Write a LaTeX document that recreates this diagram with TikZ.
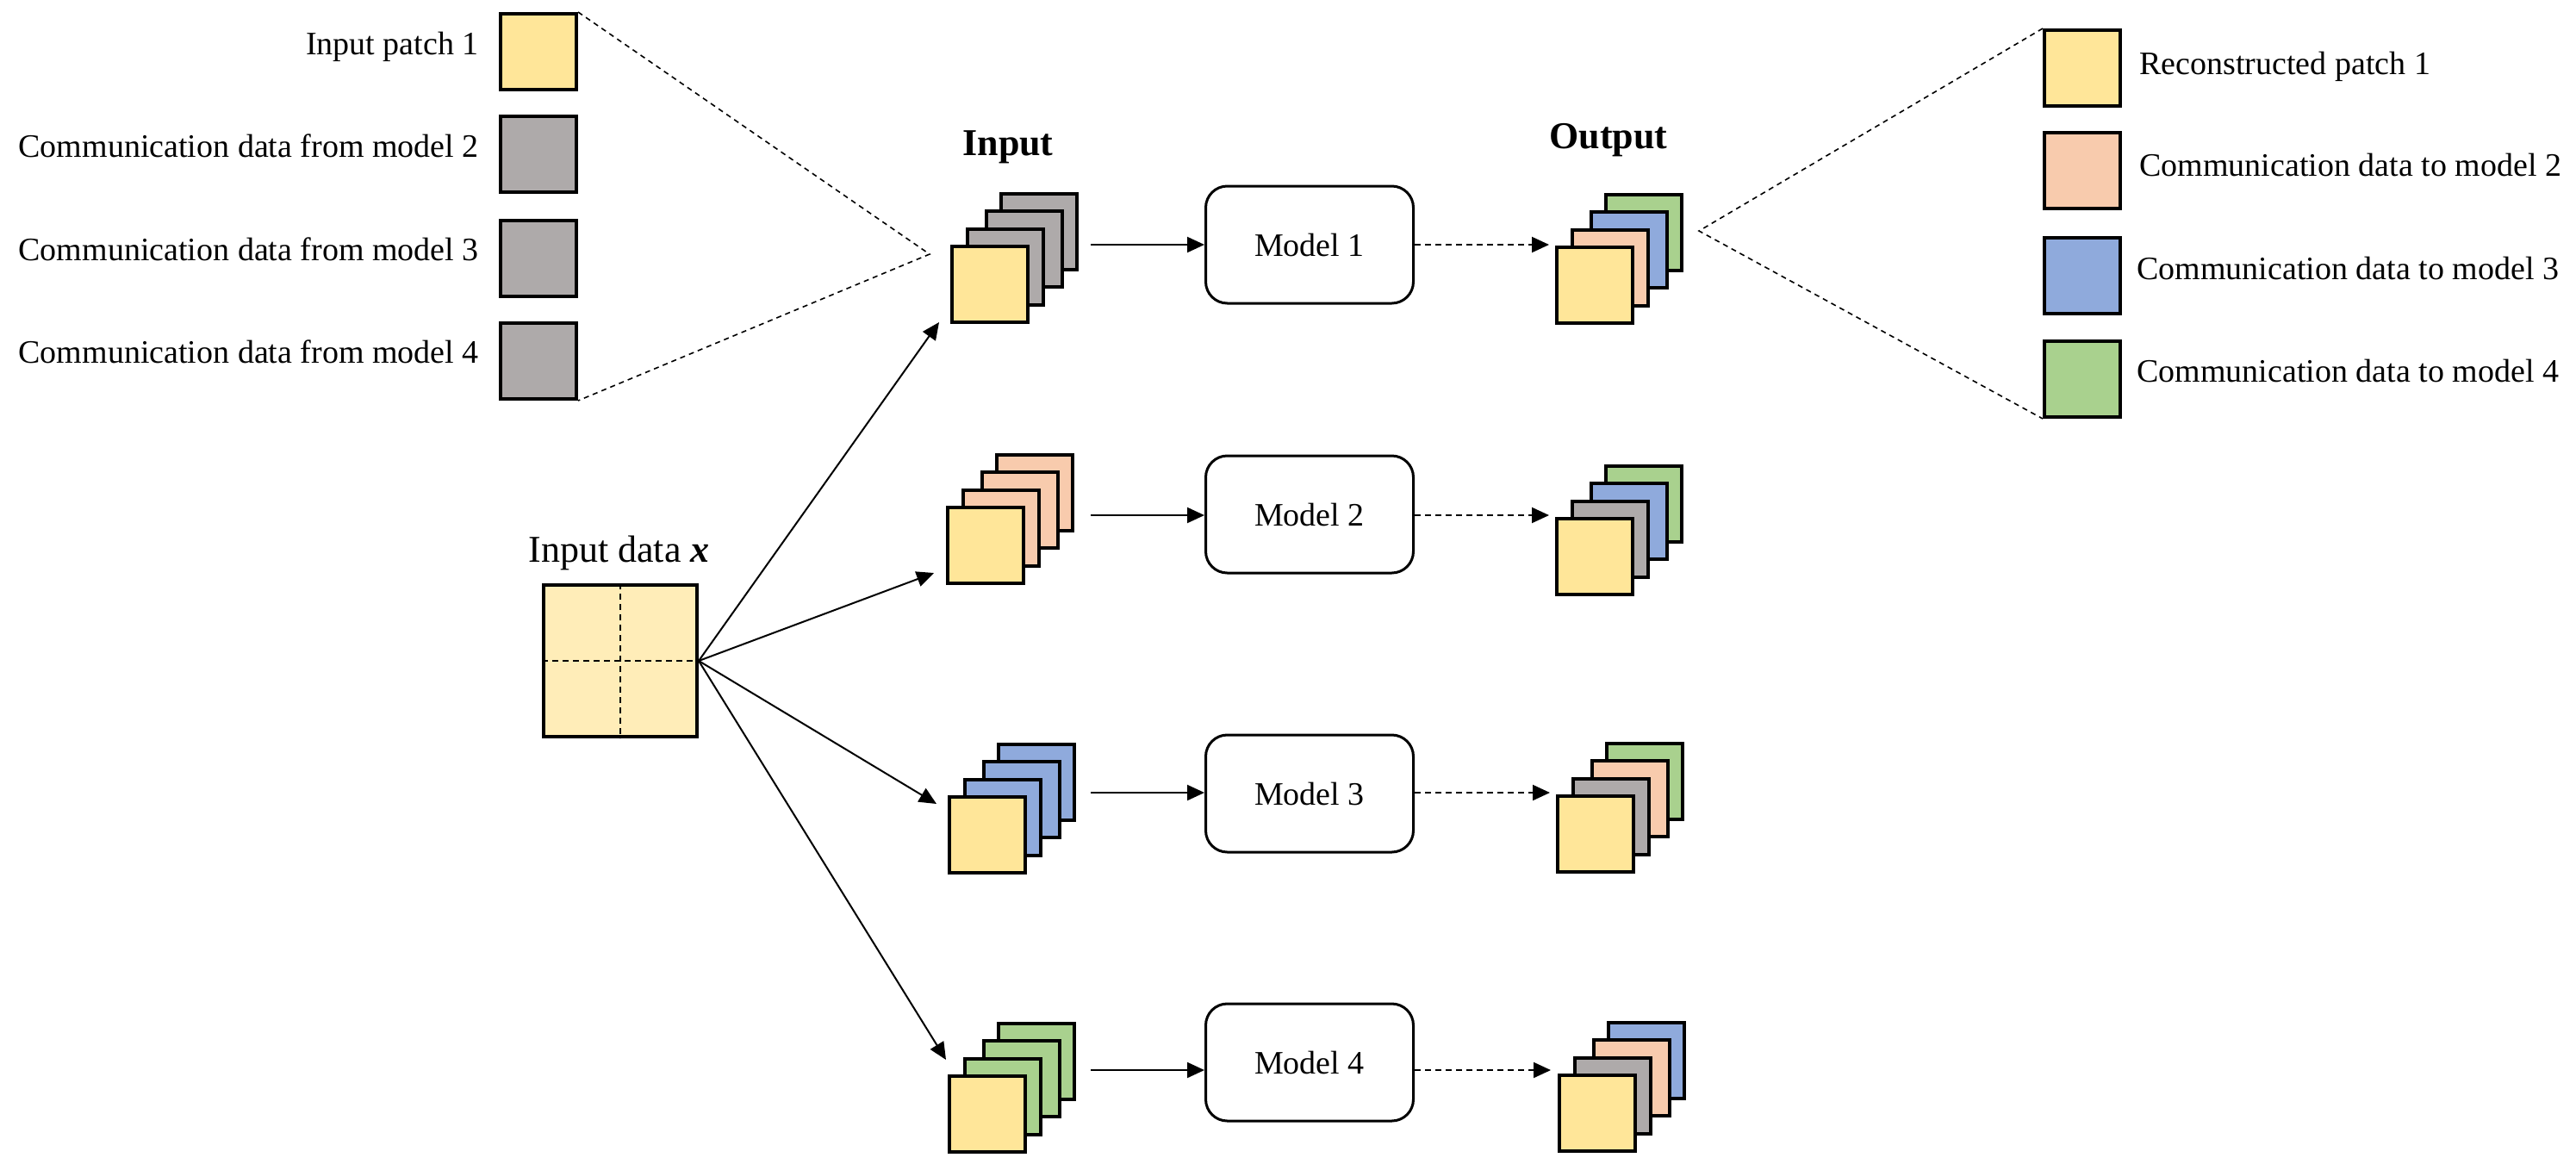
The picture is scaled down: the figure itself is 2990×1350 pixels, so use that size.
\documentclass[tikz,border=0pt]{standalone}
\usepackage{fontspec}
\setmainfont{Liberation Serif}
\usetikzlibrary{arrows.meta,calc}
\definecolor{cy}{HTML}{FFE699}
\definecolor{cg}{HTML}{AEAAAA}
\definecolor{cp}{HTML}{F8CBAD}
\definecolor{cb}{HTML}{8FAADC}
\definecolor{cgr}{HTML}{A9D18E}
\definecolor{cin}{HTML}{FFEDB8}
\tikzset{
  sq/.style={draw, line width=2pt, minimum width=44pt, minimum height=44pt, inner sep=0pt, anchor=north west},
  modelbox/.style={draw, line width=1.5pt, rounded corners=12.5pt, minimum width=120.5pt, minimum height=68pt, font=\fontsize{19}{22}\selectfont},
  arr/.style={line width=1pt, -{Triangle[length=10pt,width=9pt]}},
  darr/.style={line width=1pt, dash pattern=on 3.5pt off 2.5pt, -{Triangle[length=10pt,width=9pt]}},
  vline/.style={line width=0.8pt, dash pattern=on 3pt off 2.5pt},
  lbl/.style={font=\fontsize{19}{22}\selectfont, inner sep=0pt},
  head/.style={font=\fontsize{22}{26}\selectfont\bfseries, inner sep=0pt, anchor=base}
}
\newcommand{\mystack}[6]{%
  \node[sq, fill=#6] (#1d) at (#2+59,#3-59) {};
  \node[sq, fill=#5] (#1c) at (#2+42,#3-39) {};
  \node[sq, fill=#4] (#1b) at (#2+20,#3-18) {};
  \node[sq, fill=cy] (#1a) at (#2+2,#3+2) {};
}
\begin{document}
\begin{tikzpicture}[x=0.5pt,y=-0.5pt]
\useasboundingbox (0,0) rectangle (2990,1350);

% left legend
\node[sq, fill=cy] (L1) at (579,14) {};
\node[sq, fill=cg] (L2) at (579,133) {};
\node[sq, fill=cg] (L3) at (579,254) {};
\node[sq, fill=cg] (L4) at (579,373) {};
\node[lbl, anchor=base east] (tL1) at (556,63) {Input patch 1};
\node[lbl, anchor=base east] (tL2) at (556,182) {Communication data from model 2};
\node[lbl, anchor=base east] (tL3) at (556,302) {Communication data from model 3};
\node[lbl, anchor=base east] (tL4) at (556,421) {Communication data from model 4};

% right legend
\node[sq, fill=cy] (R1) at (2371,33) {};
\node[sq, fill=cp] (R2) at (2371,152) {};
\node[sq, fill=cb] (R3) at (2371,274) {};
\node[sq, fill=cgr] (R4) at (2371,394) {};
\node[lbl, anchor=base west] (tR1) at (2483,86) {Reconstructed patch 1};
\node[lbl, anchor=base west] (tR2) at (2483,204) {Communication data to model 2};
\node[lbl, anchor=base west] (tR3) at (2480,324) {Communication data to model 3};
\node[lbl, anchor=base west] (tR4) at (2480,443) {Communication data to model 4};

% headings
\node[head] (hin) at (1170,180) {Input};
\node[head] (hout) at (1867,172) {Output};

% input data
\node[draw, line width=2pt, fill=cin, minimum width=89pt, minimum height=88pt, inner sep=0pt] (inp) at (720,767) {};
\draw[line width=1pt, dash pattern=on 3.5pt off 2.5pt] (inp.north) -- (inp.south);
\draw[line width=1pt, dash pattern=on 3.5pt off 2.5pt] (inp.west) -- (inp.east);
\node[lbl, anchor=base west, font=\fontsize{22}{26}\selectfont] (tinp) at (613,652) {Input data \textbf{\textit{x}}};

% input stacks
\mystack{i1}{1101}{282}{cg}{cg}{cg}
\mystack{i2}{1096}{585}{cp}{cp}{cp}
\mystack{i3}{1098}{921}{cb}{cb}{cb}
\mystack{i4}{1098}{1245}{cgr}{cgr}{cgr}

% output stacks
\mystack{o1}{1803}{283}{cp}{cb}{cgr}
\mystack{o2}{1803}{598}{cg}{cb}{cgr}
\mystack{o3}{1804}{920}{cg}{cp}{cgr}
\mystack{o4}{1806}{1244}{cg}{cp}{cb}

% models
\node[modelbox] (m1) at (1520,284) {Model 1};
\node[modelbox] (m2) at (1520,597) {Model 2};
\node[modelbox] (m3) at (1520,921) {Model 3};
\node[modelbox] (m4) at (1520,1233) {Model 4};

% arrows input stack -> model
\coordinate (a1) at (1266,284);
\coordinate (a2) at (1266,598);
\coordinate (a3) at (1266,920);
\coordinate (a4) at (1266,1242);
\draw[arr] (a1) -- (a1 -| m1.west);
\draw[arr] (a2) -- (a2 -| m2.west);
\draw[arr] (a3) -- (a3 -| m3.west);
\draw[arr] (a4) -- (a4 -| m4.west);

% dashed arrows model -> output
\coordinate (b1) at (1798,284);
\coordinate (b2) at (1798,598);
\coordinate (b3) at (1799,920);
\coordinate (b4) at (1800,1242);
\draw[darr] (m1.east |- b1) -- (b1);
\draw[darr] (m2.east |- b2) -- (b2);
\draw[darr] (m3.east |- b3) -- (b3);
\draw[darr] (m4.east |- b4) -- (b4);

% input data -> stacks
\coordinate (e1) at (1090,374);
\coordinate (e2) at (1084,665);
\coordinate (e3) at (1087,933);
\coordinate (e4) at (1098,1230);
\draw[arr] (inp.east) -- (e1);
\draw[arr] (inp.east) -- (e2);
\draw[arr] (inp.east) -- (e3);
\draw[arr] (inp.east) -- (e4);

% zoom lines
\coordinate (vL) at (1079,295);
\coordinate (vR) at (1972,268);
\draw[vline] (L1.north east) -- (vL) -- (L4.south east);
\draw[vline] (R1.north west) -- (vR) -- (R4.south west);
\end{tikzpicture}
\end{document}
